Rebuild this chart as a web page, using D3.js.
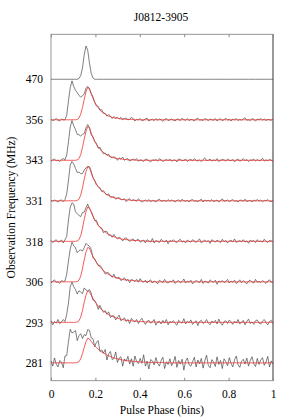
<!DOCTYPE html>
<html lang="en">
<head>
<meta charset="UTF-8">
<title>J0812-3905</title>
<style>
    body {
        margin: 0;
        padding: 0;
        background: #fff;
    }

    svg {
        display: block;
    }

    svg text {
        font-family: "Liberation Serif", "DejaVu Serif", serif;
        font-size: 11.5px;
        fill: #000;
    }
</style>
</head>
<body>
<script src="https://d3js.org/d3.v7.min.js"></script>
<script>
// channels, top to bottom (MHz)
const freqs = ['470', '356', '343', '331', '318', '306', '293', '281']
const phaseTicks = [0, 0.2, 0.4, 0.6, 0.8, 1]

// profiles: 128 phase bins, amplitude in 1/100 of channel spacing
const prof470 = [
    0,0,0,0,0,0,0,0,0,0,0,0,0,0,0,0,
    2,9,28,60,82,72,40,15,3,0,0,0,0,0,0,0,
    0,0,0,0,0,0,0,0,0,0,0,0,0,0,0,0,
    0,0,0,0,0,0,0,0,0,0,0,0,0,0,0,0,
    0,0,0,0,0,0,0,0,0,0,0,0,0,0,0,0,
    0,0,0,0,0,0,0,0,0,0,0,0,0,0,0,0,
    0,0,0,0,0,0,0,0,0,0,0,0,0,0,0,0,
    0,0,0,0,0,0,0,0,0,0,0,0,0,0,0,0]
const prof356 = [
    1,-2,0,3,-1,-3,2,0,0,11,47,79,96,82,73,67,
    60,56,59,64,78,82,75,65,57,43,34,33,24,25,16,16,
    9,13,9,3,8,4,6,2,6,0,3,4,0,1,6,3,
    -3,1,0,3,-2,-1,2,4,-3,0,1,-2,3,-1,2,0,
    -4,1,3,-2,0,2,-1,-3,2,1,-2,4,0,-1,3,-2,
    1,0,-3,2,4,-1,0,-2,3,1,-2,2,0,-1,3,-3,
    1,2,-2,0,4,-1,1,-3,2,0,3,-2,1,-1,2,5,
    -1,0,-2,3,1,-3,2,0,3,-1,2,-2,1,0,-1,2]
const prof343 = [
    -2,1,3,-1,0,-3,2,4,1,13,46,82,98,85,76,64,
    63,60,64,66,80,88,80,63,58,47,42,30,32,24,16,18,
    13,15,8,6,9,6,0,6,3,8,0,3,4,-2,1,3,
    0,4,-2,1,0,-3,3,2,-1,-4,1,0,2,-2,4,1,
    -3,0,2,-1,3,-2,0,1,-4,3,2,-1,0,3,-3,1,
    2,-1,4,0,-2,1,-3,2,6,-1,0,3,-2,1,-1,4,
    -3,0,2,1,-2,3,0,-1,2,-4,1,3,-2,0,4,-1,
    2,-3,1,0,3,-2,2,-1,0,5,-2,1,-1,2,0,-2]
const prof331 = [
    1,-1,2,0,-3,1,2,-2,3,17,51,88,97,91,80,70,
    71,67,67,76,81,85,84,73,57,50,39,35,32,23,25,19,
    14,17,9,9,10,4,7,8,3,3,5,-2,3,5,0,3,
    1,-1,5,1,-3,0,2,-1,3,-2,1,0,-3,2,4,-1,
    0,1,-2,3,-1,2,0,-3,1,2,-2,4,0,-1,1,-3,
    2,3,-1,0,-2,1,4,-3,2,0,1,-1,3,-2,0,2,
    -3,1,5,-1,0,2,-2,1,3,-1,0,-3,2,1,-1,4,
    -2,0,1,-3,2,0,3,-1,2,-2,1,0,3,-1,-2,1]
const prof318 = [
    2,-3,1,4,-2,0,3,-4,4,12,53,84,95,92,73,68,
    64,61,71,72,83,92,80,74,63,51,52,39,35,33,21,25,
    24,15,16,10,17,10,6,10,7,1,7,9,3,0,3,6,
    0,3,5,-2,1,3,-4,4,1,-2,7,-4,2,0,-3,5,
    1,-2,3,-6,2,0,4,-1,-3,2,5,-2,1,-4,3,0,
    -2,4,1,-3,2,6,-4,0,3,-1,2,-5,4,1,-2,3,
    0,-3,5,-1,2,-4,1,3,-2,6,-3,0,2,-1,4,-2,
    1,-5,3,0,2,-3,4,-1,1,-2,5,0,-3,2,1,-1]
const prof306 = [
    -3,2,5,-1,0,-4,3,1,2,19,52,81,98,89,84,72,
    77,79,76,84,95,91,88,80,59,57,48,40,41,35,27,19,
    23,22,16,11,19,9,10,11,3,6,10,3,6,-2,6,4,
    1,6,-1,8,1,-1,4,-3,2,5,-3,2,0,-5,4,1,
    -2,6,-1,-3,2,0,5,-4,1,3,-2,0,7,-3,2,-1,
    4,-5,0,3,1,-2,6,-4,2,0,-3,5,1,-1,4,-6,
    2,0,3,-2,1,6,-3,2,-1,4,-4,0,5,-2,3,-1,
    -5,2,4,0,-3,6,-1,1,-2,3,0,-4,2,5,-1,0]
const prof293 = [
    4,-6,2,-2,7,-3,1,7,2,20,48,88,99,88,81,70,
    78,75,71,85,80,77,81,72,55,54,46,32,42,32,25,29,
    20,26,12,16,16,6,12,18,4,7,11,2,7,-3,10,4,
    1,7,-3,5,10,1,-5,3,5,-2,1,7,-7,1,3,-4,
    5,-2,7,-6,2,0,4,-3,-7,5,1,-2,9,-4,3,-1,
    6,-5,0,4,-8,2,5,-3,1,7,-2,-6,3,0,5,-4,
    8,-1,-7,2,4,-3,6,1,-5,3,-2,7,-4,0,5,-6,
    2,8,-3,1,-5,4,6,-2,-4,3,7,-1,-6,2,5,-3]
const prof281 = [
    5,-8,12,-3,-10,6,2,-12,17,18,53,83,74,76,80,55,
    67,72,60,70,67,82,80,62,60,40,51,55,28,32,24,33,
    7,22,28,8,11,27,1,12,15,-8,10,4,16,-3,10,-8,
    17,3,-2,11,-1,20,-8,4,-15,8,5,-5,13,-1,-8,6,
    14,-14,3,-4,10,-7,1,16,-11,6,-3,9,-18,4,12,-5,
    -8,3,14,-10,7,-2,11,-13,5,19,-6,-12,8,2,-9,15,
    -4,6,-14,10,3,-7,13,-1,-10,8,17,-5,-11,4,9,-3,
    12,-8,6,15,-2,-9,11,-4,7,13,-6,2,16,-10,5,-3]

// fitted scattering models (red)
const fit356 = [
    0,0,0,0,0,0,0,0,0,0,0,0,0,0,0,1,
    4,14,30,50,69,80,78,64,53,44,36,30,24,20,17,14,
    11,9,8,6,5,4,4,3,2,2,2,1,1,1,1,1,
    0,0,0,0,0,0,0,0,0,0,0,0,0,0,0,0,
    0,0,0,0,0,0,0,0,0,0,0,0,0,0,0,0,
    0,0,0,0,0,0,0,0,0,0,0,0,0,0,0,0,
    0,0,0,0,0,0,0,0,0,0,0,0,0,0,0,0,
    0,0,0,0,0,0,0,0,0,0,0,0,0,0,0,0]
const fit343 = [
    0,0,0,0,0,0,0,0,0,0,0,0,0,0,0,1,
    4,14,32,52,71,83,81,67,56,47,39,32,27,23,19,16,
    13,11,9,8,6,5,4,4,3,3,2,2,1,1,1,1,
    1,0,0,0,0,0,0,0,0,0,0,0,0,0,0,0,
    0,0,0,0,0,0,0,0,0,0,0,0,0,0,0,0,
    0,0,0,0,0,0,0,0,0,0,0,0,0,0,0,0,
    0,0,0,0,0,0,0,0,0,0,0,0,0,0,0,0,
    0,0,0,0,0,0,0,0,0,0,0,0,0,0,0,0]
const fit331 = [
    0,0,0,0,0,0,0,0,0,0,0,0,0,0,0,1,
    4,14,32,53,72,84,82,69,58,49,42,35,30,25,22,18,
    15,13,11,9,8,7,6,5,4,3,3,2,2,2,1,1,
    1,1,1,0,0,0,0,0,0,0,0,0,0,0,0,0,
    0,0,0,0,0,0,0,0,0,0,0,0,0,0,0,0,
    0,0,0,0,0,0,0,0,0,0,0,0,0,0,0,0,
    0,0,0,0,0,0,0,0,0,0,0,0,0,0,0,0,
    0,0,0,0,0,0,0,0,0,0,0,0,0,0,0,0]
const fit318 = [
    0,0,0,0,0,0,0,0,0,0,0,0,0,0,0,1,
    4,14,32,54,73,85,83,72,62,54,47,40,35,30,26,23,
    20,17,15,13,11,10,8,7,6,5,5,4,4,3,3,2,
    2,2,2,1,1,1,1,0,0,0,0,0,0,0,0,0,
    0,0,0,0,0,0,0,0,0,0,0,0,0,0,0,0,
    0,0,0,0,0,0,0,0,0,0,0,0,0,0,0,0,
    0,0,0,0,0,0,0,0,0,0,0,0,0,0,0,0,
    0,0,0,0,0,0,0,0,0,0,0,0,0,0,0,0]
const fit306 = [
    0,0,0,0,0,0,0,0,0,0,0,0,0,0,0,1,
    4,14,32,54,73,85,83,72,63,55,48,42,36,32,28,24,
    21,18,16,14,12,11,9,8,7,6,5,5,4,4,3,3,
    2,2,2,2,1,1,1,1,1,0,0,0,0,0,0,0,
    0,0,0,0,0,0,0,0,0,0,0,0,0,0,0,0,
    0,0,0,0,0,0,0,0,0,0,0,0,0,0,0,0,
    0,0,0,0,0,0,0,0,0,0,0,0,0,0,0,0,
    0,0,0,0,0,0,0,0,0,0,0,0,0,0,0,0]
const fit293 = [
    0,0,0,0,0,0,0,0,0,0,0,0,0,0,0,1,
    4,13,29,49,67,78,76,67,59,52,46,40,36,31,28,25,
    22,19,17,15,13,12,10,9,8,7,6,5,5,4,4,3,
    3,3,2,2,2,2,1,1,1,1,1,1,1,0,0,0,
    0,0,0,0,0,0,0,0,0,0,0,0,0,0,0,0,
    0,0,0,0,0,0,0,0,0,0,0,0,0,0,0,0,
    0,0,0,0,0,0,0,0,0,0,0,0,0,0,0,0,
    0,0,0,0,0,0,0,0,0,0,0,0,0,0,0,0]
const fit281 = [
    0,0,0,0,0,0,0,0,0,0,0,0,0,0,0,1,
    3,10,23,38,52,61,59,53,47,42,38,34,30,27,24,22,
    19,17,16,14,12,11,10,9,8,7,6,6,5,5,4,4,
    3,3,3,2,2,2,2,2,1,1,1,1,1,1,1,1,
    1,0,0,0,0,0,0,0,0,0,0,0,0,0,0,0,
    0,0,0,0,0,0,0,0,0,0,0,0,0,0,0,0,
    0,0,0,0,0,0,0,0,0,0,0,0,0,0,0,0,
    0,0,0,0,0,0,0,0,0,0,0,0,0,0,0,0]

const profiles = [prof470, prof356, prof343, prof331, prof318, prof306, prof293, prof281]
const fits = [null, fit356, fit343, fit331, fit318, fit306, fit293, fit281]

const width = 294
const height = 420
const margin = { top: 34.3, right: 21, bottom: 39.3, left: 51 }
const serif = '"Liberation Serif", "DejaVu Serif", serif'

const x = d3.scaleLinear()
    .domain([0, 1])
    .range([margin.left, width - margin.right])

// channel offsets: 0 = lowest channel, 1 = one channel spacing
const y = d3.scaleLinear()
    .domain([-0.44, 8.11])
    .range([height - margin.bottom, margin.top])

const offsetOf = i => freqs.length - 1 - i

const svg = d3.select('body')
    .append('svg')
    .attr('width', width)
    .attr('height', height)

svg.append('rect')
    .attr('width', width)
    .attr('height', height)
    .attr('fill', '#fff')

const lineFor = off => d3.line()
    .x((d, j, arr) => x(j / (arr.length - 1)))
    .y(d => y(off + d / 100))

// frame
svg.append('rect')
    .attr('x', x(0))
    .attr('y', y(8.11))
    .attr('width', x(1) - x(0))
    .attr('height', y(-0.44) - y(8.11))
    .attr('fill', 'none')
    .attr('stroke', '#8c8c8c')
    .attr('stroke-width', 0.9)

svg.append('line')
    .attr('x1', x(1)).attr('x2', x(1))
    .attr('y1', y(8.11)).attr('y2', y(-0.44))
    .attr('stroke', '#8c8c8c')
    .attr('stroke-width', 1.6)

// data
const g = svg.append('g')

profiles.forEach((p, i) => {
    g.append('path')
        .datum(p)
        .attr('d', lineFor(offsetOf(i)))
        .attr('fill', 'none')
        .attr('stroke', '#3a3a3a')
        .attr('stroke-width', 0.65)
})

fits.forEach((f, i) => {
    if (!f) return
    g.append('path')
        .datum(f)
        .attr('d', lineFor(offsetOf(i)))
        .attr('fill', 'none')
        .attr('stroke', '#ee3333')
        .attr('stroke-width', 0.8)
})

// axes
const xAxis = svg.append('g')
    .attr('transform', `translate(0,${y(-0.44)})`)
    .call(d3.axisBottom(x)
        .tickValues(phaseTicks)
        .tickFormat(d => String(d))
        .tickSizeInner(-3)
        .tickSizeOuter(0)
        .tickPadding(9))
xAxis.attr('font-family', serif).attr('font-size', 11.5)
xAxis.select('.domain').remove()
xAxis.selectAll('line').attr('stroke', '#8c8c8c')
xAxis.selectAll('text').attr('fill', '#000')

const topAxis = svg.append('g')
    .attr('transform', `translate(0,${y(8.11)})`)
    .call(d3.axisTop(x)
        .tickValues(phaseTicks)
        .tickFormat('')
        .tickSizeInner(-3)
        .tickSizeOuter(0))
topAxis.select('.domain').remove()
topAxis.selectAll('line').attr('stroke', '#8c8c8c')

const yAxis = svg.append('g')
    .attr('transform', `translate(${x(0)},0)`)
    .call(d3.axisLeft(y)
        .tickValues(freqs.map((f, i) => offsetOf(i)))
        .tickFormat((d, i) => freqs[i])
        .tickSize(0)
        .tickPadding(8))
yAxis.attr('font-family', serif).attr('font-size', 11.5)
yAxis.select('.domain').remove()
yAxis.selectAll('text').attr('fill', '#000')

// titles
svg.append('text')
    .attr('x', 161)
    .attr('y', 21)
    .attr('text-anchor', 'middle')
    .attr('font-family', serif)
    .text('J0812-3905')

svg.append('text')
    .attr('x', (x(0) + x(1)) / 2)
    .attr('y', 414)
    .attr('text-anchor', 'middle')
    .attr('font-family', serif)
    .text('Pulse Phase (bins)')

svg.append('text')
    .attr('transform', `translate(15,${(y(8.11) + y(-0.44)) / 2}) rotate(-90)`)
    .attr('text-anchor', 'middle')
    .attr('font-family', serif)
    .text('Observation Frequency (MHz)')
</script>
</body>
</html>
